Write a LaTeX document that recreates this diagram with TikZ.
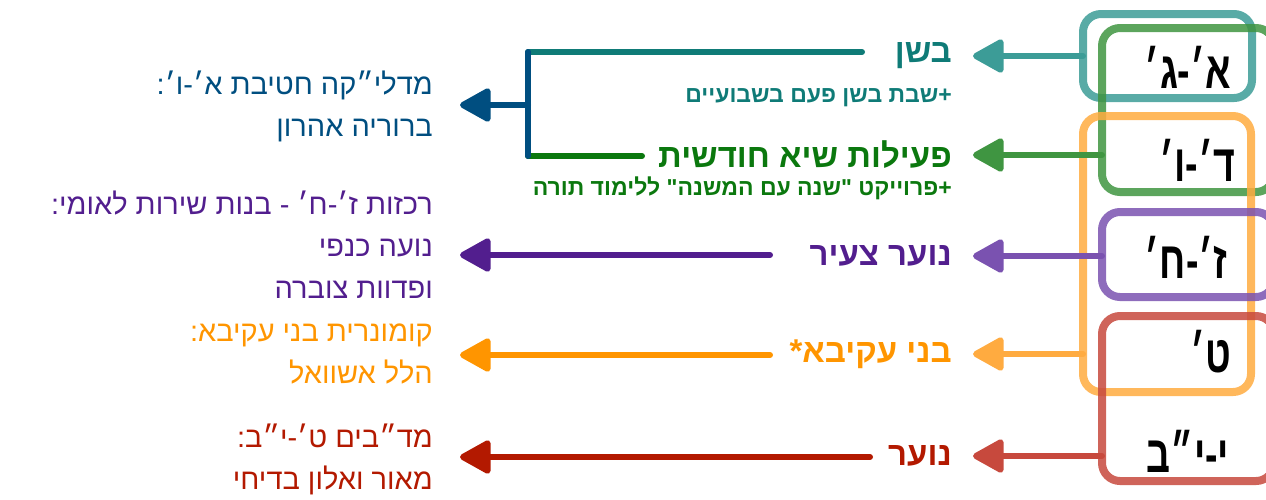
\documentclass[tikz,border=0pt]{standalone}
\usepackage{fontspec}
\setmainfont{Liberation Sans}
\newfontfamily\heb[Script=Hebrew]{Liberation Sans}
\newfontfamily\hebnarrow[Script=Hebrew,FakeStretch=0.72]{Liberation Sans}
\TeXXeTstate=1
\usetikzlibrary{
    arrows.meta,
    positioning
}
\definecolor{tealbox}{HTML}{3C9C97}
\definecolor{tealtxt}{HTML}{0F7B77}
\definecolor{greenbox}{HTML}{3F9541}
\definecolor{greentxt}{HTML}{0B780E}
\definecolor{purplebox}{HTML}{7A52B0}
\definecolor{purpletxt}{HTML}{521E8E}
\definecolor{orangebox}{HTML}{FFAB40}
\definecolor{orangetxt}{HTML}{FF9500}
\definecolor{redbox}{HTML}{C7493D}
\definecolor{redtxt}{HTML}{B31900}
\definecolor{bluetxt}{HTML}{004E80}
\newcommand\rtl[1]{\beginR#1\endR}

\begin{document}
\begin{tikzpicture}[x=1pt,y=-1pt,
    grp/.style={draw=#1,line width=8pt,rounded corners=18pt,draw opacity=.85},
    wire/.style={draw=#1,line width=6pt,line cap=round},
    lnk/.style={wire=#1,-{Triangle[length=34pt,width=36pt,round]}},
    grade/.style={inner sep=0pt,font=\hebnarrow\bfseries\fontsize{52}{56}\selectfont},
    hdr/.style={anchor=east,inner sep=0pt,text=#1,font=\heb\bfseries\fontsize{33}{38}\selectfont},
    sub/.style={anchor=east,inner sep=0pt,text=#1,font=\heb\bfseries\fontsize{23}{27}\selectfont},
    who/.style={anchor=east,inner sep=0pt,align=right,text=#1,font=\heb\fontsize{29}{42}\selectfont}]
    \useasboundingbox (0,0) rectangle (1266,499);

    % grade boxes
    \draw[grp=tealbox]   (1083,14)  rectangle (1252,98);
    \draw[grp=greenbox]  (1102,28)  rectangle (1274,192);
    \draw[grp=orangebox] (1083,116) rectangle (1251,392);
    \draw[grp=purplebox] (1102,212) rectangle (1274,297);
    \draw[grp=redbox]    (1102,316) rectangle (1274,481);
    \node[grade] (ag) at (1188,67)  {\rtl{א׳-ג׳}};
    \node[grade] (dv) at (1197,160) {\rtl{ד׳-ו׳}};
    \node[grade] (zh) at (1186,257) {\rtl{ז׳-ח׳}};
    \node[grade] (t)  at (1211,352) {\rtl{ט׳}};
    \node[grade] (yb) at (1188,451) {\rtl{י-י״ב}};
    \coordinate (agL) at (1083,56);
    \coordinate (dvL) at (1102,155);
    \coordinate (zhL) at (1102,256);
    \coordinate (tL)  at (1083,354);
    \coordinate (ybL) at (1102,456);

    % activities
    \node[hdr=tealtxt]   (bashan) at (952,56)  {\rtl{בשן}};
    \node[sub=tealtxt, below=42pt of bashan.east, anchor=east] (shabbat) {\rtl{+שבת בשן פעם בשבועיים}};
    \node[hdr=greentxt]  (peilut) at (952,155) {\rtl{פעילות שיא חודשית}};
    \node[sub=greentxt, below=33pt of peilut.east, anchor=east] (proyekt) {\rtl{+פרוייקט "שנה עם המשנה" ללימוד תורה}};
    \node[hdr=purpletxt] (tzeir)  at (952,256) {\rtl{נוער צעיר}};
    \node[hdr=orangetxt] (akiva)  at (952,354) {\rtl{בני עקיבא*}};
    \node[hdr=redtxt]    (noar)   at (952,456) {\rtl{נוער}};

    \draw[lnk=tealbox,   shorten >=21pt] (agL) -- (bashan.east);
    \draw[lnk=greenbox,  shorten >=21pt] (dvL) -- (peilut.east);
    \draw[lnk=purplebox, shorten >=21pt] (zhL) -- (tzeir.east);
    \draw[lnk=orangebox, shorten >=21pt] (tL)  -- (akiva.east);
    \draw[lnk=redbox,    shorten >=21pt] (ybL) -- (noar.east);

    % people in charge
    \node[who=bluetxt]   (madlika) at (433,106) {\rtl{מדלי״קה חטיבת א׳-ו׳:}\\\rtl{ברוריה אהרון}};
    \node[who=purpletxt] (rakazot) at (433,245) {\rtl{רכזות ז׳-ח׳ - בנות שירות לאומי:}\\\rtl{נועה כנפי}\\\rtl{ופדוות צוברה}};
    \node[who=orangetxt] (komunar) at (433,354) {\rtl{קומונרית בני עקיבא:}\\\rtl{הלל אשוואל}};
    \node[who=redtxt]    (madbim)  at (433,459) {\rtl{מד״בים ט׳-י״ב:}\\\rtl{מאור ואלון בדיחי}};

    \coordinate (bashanW) at (862,52);
    \coordinate (peilutW) at (642,156);
    \coordinate (brT) at (528,52);
    \coordinate (brB) at (528,156);
    \coordinate (brM) at (528,105);
    \coordinate (tzeirW) at (770,255);
    \coordinate (akivaW) at (770,355);
    \coordinate (noarW)  at (870,457);

    \draw[wire=tealtxt]  (bashanW) -- (brT);
    \draw[wire=greentxt] (peilutW) -- (brB);
    \draw[wire=bluetxt]  (brT) -- (brB);
    \draw[lnk=bluetxt,   shorten >=27pt] (brM)    -- (brM -| madlika.east);
    \draw[lnk=purpletxt, shorten >=27pt] (tzeirW) -- (tzeirW -| rakazot.east);
    \draw[lnk=orangetxt, shorten >=27pt] (akivaW) -- (akivaW -| komunar.east);
    \draw[lnk=redtxt,    shorten >=27pt] (noarW)  -- (noarW -| madbim.east);
\end{tikzpicture}
\end{document}
